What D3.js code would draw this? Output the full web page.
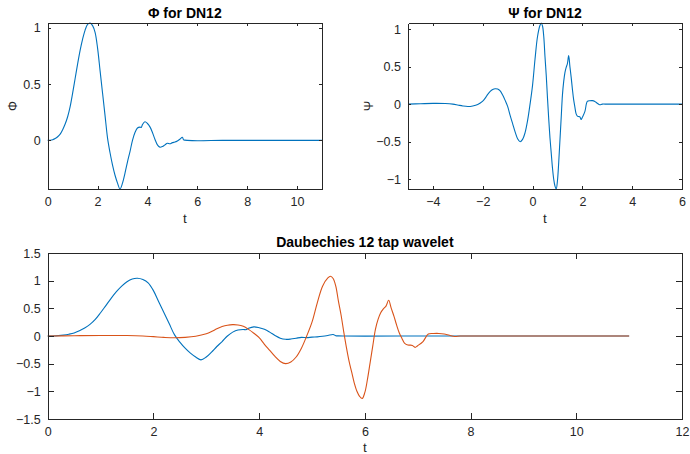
<!DOCTYPE html>
<html>
<head>
<meta charset="utf-8">
<script src="https://cdn.jsdelivr.net/npm/d3@7"></script>
<style>
  html, body { margin: 0; padding: 0; background: #fff; }
  svg { display: block; font-family: "Liberation Sans", Arial, sans-serif; }
</style>
</head>
<body>
<svg id="chart" width="690" height="454"></svg>
<script>
// Daubechies 12-tap scaling function samples (t, phi)
const phiT = [0,0.1,0.2,0.3,0.4,0.5,0.6,0.7,0.8,0.9,1.0,1.1,1.2,1.3,1.4,1.5,1.6,1.7,1.8,1.9,
  2.0,2.1,2.2,2.3,2.4,2.5,2.6,2.7,2.8,2.9,3.0,3.1,3.2,3.3,3.4,3.5,3.6,3.7,3.75,3.8,3.9,
  4.0,4.1,4.2,4.3,4.4,4.5,4.6,4.7,4.8,4.9,5.0,5.1,5.2,5.3,5.4,5.45,5.5,5.6,6,7,8,9,10,11];
const phiV = [0,0.001,0.006,0.016,0.032,0.055,0.095,0.145,0.21,0.3,0.42,0.55,0.68,0.8,0.9,0.98,1.03,1.043,1.02,0.96,
  0.82,0.62,0.42,0.22,0.02,-0.11,-0.22,-0.31,-0.38,-0.432,-0.38,-0.29,-0.19,-0.1,0.0,0.07,0.11,0.118,0.115,0.14,0.165,
  0.15,0.12,0.07,0.01,-0.04,-0.06,-0.055,-0.04,-0.025,-0.03,-0.02,-0.015,-0.005,0.01,0.028,0.005,0.002,0,-0.003,0,0,0,0,0];

// Wavelet function samples (t, psi)
const psiT = [-5,-4.5,-4,-3.5,-3.2,-3,-2.8,-2.6,-2.4,-2.2,-2.0,-1.9,-1.8,-1.7,-1.6,-1.5,-1.4,-1.3,-1.2,-1.1,
  -1.0,-0.9,-0.8,-0.7,-0.6,-0.5,-0.4,-0.3,-0.2,-0.1,0,0.1,0.2,0.3,0.35,0.4,0.45,0.5,0.55,0.6,0.65,0.7,0.75,
  0.8,0.85,0.9,0.95,1.0,1.05,1.1,1.15,1.2,1.25,1.3,1.35,1.4,1.45,1.5,1.55,1.6,1.65,1.7,1.75,1.8,1.85,1.9,1.95,
  2.0,2.1,2.2,2.3,2.4,2.5,2.6,2.7,2.8,3,4,5,6];
const psiV = [0,0.005,0.01,0.008,0,-0.012,-0.025,-0.032,-0.025,-0.005,0.04,0.08,0.13,0.17,0.195,0.205,0.2,0.175,0.12,0.05,
  -0.03,-0.15,-0.26,-0.37,-0.46,-0.5,-0.47,-0.38,-0.22,0.0,0.25,0.6,0.9,1.05,1.08,1.04,0.9,0.63,0.38,0.08,-0.2,-0.45,-0.65,
  -0.85,-1.0,-1.09,-1.13,-1.02,-0.78,-0.48,-0.18,0.12,0.3,0.42,0.49,0.54,0.645,0.5,0.36,0.2,0.06,-0.04,-0.13,-0.16,-0.165,-0.17,-0.205,
  -0.175,-0.1,0.035,0.045,0.046,0.036,0.012,-0.008,0,0,0,0,0];

// Shift applied to the wavelet in the combined plot
const psiShift = 5;

// Tick values
const phiXTicks = [0, 2, 4, 6, 8, 10];
const phiYTicks = [0, 0.5, 1];
const psiXTicks = [-4, -2, 0, 2, 4, 6];
const psiYTicks = [-1, -0.5, 0, 0.5, 1];
const bothXTicks = [0, 2, 4, 6, 8, 10, 12];
const bothYTicks = [-1.5, -1, -0.5, 0, 0.5, 1, 1.5];

const titles = ["\u03A6 for DN12", "\u03A8 for DN12", "Daubechies 12 tap wavelet"];
const xLabel = "t";
const yLabels = ["\u03A6", "\u03A8"];

const BLUE = "#0072bd", ORANGE = "#d95319", AXIS = "#262626";

const svg = d3.select("#chart");

function zip(ts, vs, shift = 0) { return ts.map((t, i) => [t + shift, vs[i]]); }

function panel(box, xDom, yDom, xTicks, yTicks, tickLen, series, title, titleY, yLab, yLabX, xLabY) {
  const x = d3.scaleLinear().domain(xDom).range([box.left, box.right]);
  const y = d3.scaleLinear().domain(yDom).range([box.bottom, box.top]);
  const g = svg.append("g");

  const fmt = d3.format("");

  // data lines
  const line = d3.line().x(d => x(d[0])).y(d => y(d[1])).curve(d3.curveCatmullRom.alpha(0.5));
  series.forEach(s => {
    g.append("path").datum(s.data).attr("d", line)
      .attr("fill", "none").attr("stroke", s.color).attr("stroke-width", 1.1)
      .attr("stroke-linejoin", "round");
  });

  const styleAxis = sel => {
    sel.selectAll(".domain").attr("stroke", AXIS).attr("shape-rendering", "crispEdges");
    sel.selectAll(".tick line").attr("stroke", AXIS).attr("shape-rendering", "crispEdges");
    sel.selectAll("text").attr("fill", AXIS).attr("font-size", 12.5).attr("font-family", "Liberation Sans, Arial, sans-serif");
  };

  g.append("g").attr("transform", `translate(0,${box.bottom})`)
    .call(d3.axisBottom(x).tickValues(xTicks).tickFormat(fmt).tickSizeInner(-tickLen).tickSizeOuter(0).tickPadding(8))
    .call(styleAxis);
  g.append("g").attr("transform", `translate(0,${box.top})`)
    .call(d3.axisTop(x).tickValues(xTicks).tickFormat("").tickSizeInner(-tickLen).tickSizeOuter(0))
    .call(styleAxis);
  g.append("g").attr("transform", `translate(${box.left},0)`)
    .call(d3.axisLeft(y).tickValues(yTicks).tickFormat(fmt).tickSizeInner(-tickLen).tickSizeOuter(0).tickPadding(7))
    .call(styleAxis);
  g.append("g").attr("transform", `translate(${box.right},0)`)
    .call(d3.axisRight(y).tickValues(yTicks).tickFormat("").tickSizeInner(-tickLen).tickSizeOuter(0))
    .call(styleAxis);

  const cx = (box.left + box.right) / 2;
  g.append("text").attr("x", cx).attr("y", titleY).attr("text-anchor", "middle")
    .attr("font-size", 14).attr("font-weight", "bold").attr("fill", "#000").text(title);
  g.append("text").attr("x", cx).attr("y", xLabY).attr("text-anchor", "middle")
    .attr("font-size", 13.5).attr("fill", AXIS).text(xLabel);
  if (yLab) {
    const cy = (box.top + box.bottom) / 2;
    g.append("text").attr("transform", `translate(${yLabX},${cy}) rotate(-90)`)
      .attr("text-anchor", "middle").attr("dy", "0.35em")
      .attr("font-size", 12.5).attr("fill", AXIS).text(yLab);
  }
}

panel({left: 47.7, right: 322, top: 23, bottom: 189}, [0, 11], d3.extent(phiV),
  phiXTicks, phiYTicks, 3, [{data: zip(phiT, phiV), color: BLUE}], titles[0], 18, yLabels[0], 13, 223);

panel({left: 408, right: 682, top: 23, bottom: 189}, [-5, 6], d3.extent(psiV),
  psiXTicks, psiYTicks, 3, [{data: zip(psiT, psiV), color: BLUE}], titles[1], 18, yLabels[1], 369, 223);

panel({left: 47.7, right: 682, top: 253, bottom: 419}, [0, 12], [-1.5, 1.5],
  bothXTicks, bothYTicks, 6,
  [{data: zip(phiT, phiV), color: BLUE}, {data: zip(psiT, psiV, psiShift), color: ORANGE}],
  titles[2], 247, null, 0, 452);
</script>
</body>
</html>
